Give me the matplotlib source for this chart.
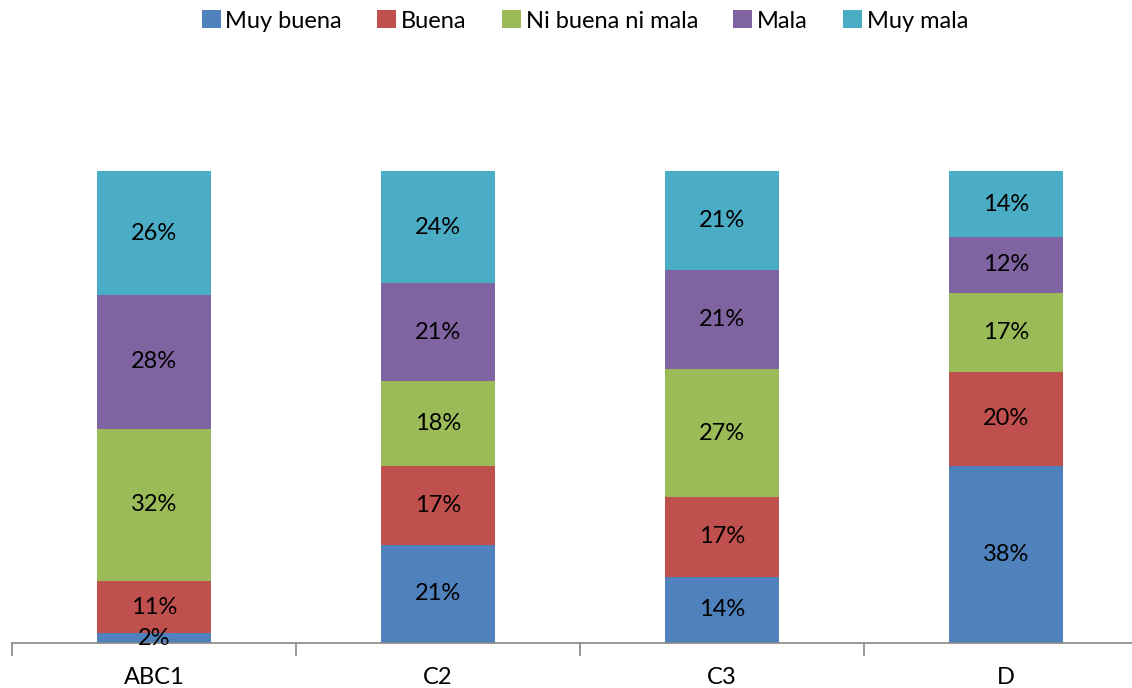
import numpy as np
import matplotlib
matplotlib.use('Agg')
import matplotlib.pyplot as plt
from matplotlib.patches import Patch

plt.rcParams['font.family'] = ['Lato', 'DejaVu Sans']

categories = ['ABC1', 'C2', 'C3', 'D']
series = ['Muy buena', 'Buena', 'Ni buena ni mala', 'Mala', 'Muy mala']
muy_buena = [2, 21, 14, 38]
buena = [11, 17, 17, 20]
ni_buena_ni_mala = [32, 18, 27, 17]
mala = [28, 21, 21, 12]
muy_mala = [26, 24, 21, 14]

colors = ['#4F81BD', '#C0504D', '#9BBB59', '#8064A2', '#4BACC6']

data = np.array([muy_buena, buena, ni_buena_ni_mala, mala, muy_mala], dtype=float)
totals = data.sum(axis=0)
shares = data / totals

fig = plt.figure(figsize=(11.32, 6.88), dpi=100)
W, H = 1132, 688
ax = fig.add_axes([12 / W, 45 / H, 1136 / W, 566 / H])

x = np.arange(len(categories))
bottom = np.zeros(len(categories))
for i, name in enumerate(series):
    ax.bar(x, shares[i], 0.4, bottom=bottom, color=colors[i], label=name)
    for j in range(len(categories)):
        ax.text(x[j], bottom[j] + shares[i][j] / 2, '%d%%' % data[i][j],
                ha='center', va='center', fontsize=17, color='black')
    bottom += shares[i]

ax.set_xlim(-0.5, len(categories) - 0.5)
ax.set_ylim(0, 1.2)
ax.set_yticks([])
for s in ['top', 'right', 'left']:
    ax.spines[s].set_visible(False)
ax.spines['bottom'].set_color('#868686')
ax.spines['bottom'].set_linewidth(1.2)

ax.set_xticks(np.arange(-0.5, len(categories), 1.0))
ax.set_xticklabels([])
ax.tick_params(axis='x', which='major', length=9, width=1.2, color='#868686', direction='out')
ax.set_xticks(x, minor=True)
ax.set_xticklabels(categories, minor=True, fontsize=17)
ax.tick_params(axis='x', which='minor', length=0, pad=17)

handles = [Patch(facecolor=c) for c in colors]
fig.legend(handles, series, loc='center', bbox_to_anchor=(585 / W, 1 - 21 / H), ncol=5,
           frameon=False, fontsize=17, handlelength=0.8, handleheight=0.8,
           handletextpad=0.2, columnspacing=1.5)

plt.savefig('out.png', dpi=100)
